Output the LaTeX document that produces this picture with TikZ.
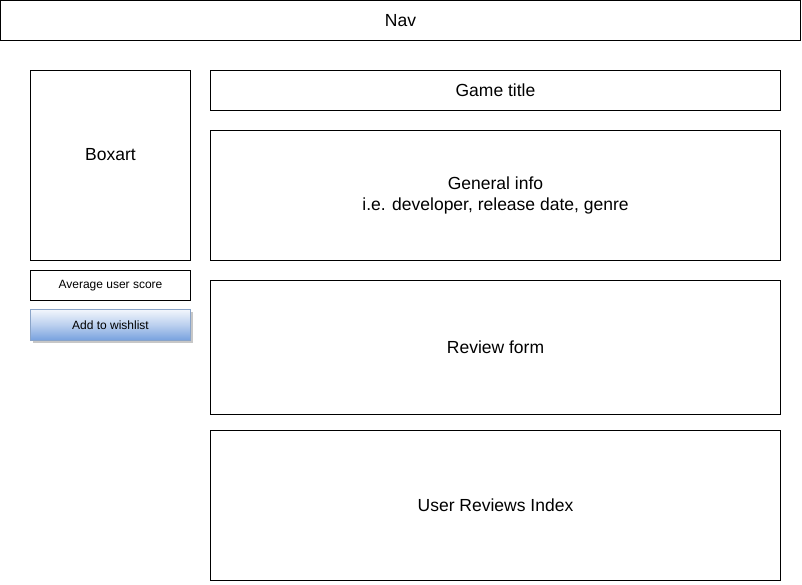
\documentclass[tikz,border=0pt]{standalone}
\usepackage{fontspec}
\setmainfont{Liberation Sans}
\usepackage{tikz}
\usetikzlibrary{positioning,shadows}
\definecolor{btnline}{HTML}{8AA4C8}
\definecolor{btntop}{HTML}{F2F6FC}
\definecolor{btnbot}{HTML}{76A0DE}

\begin{document}
\begin{tikzpicture}[
  x=1pt,y=-1pt,
  box/.style={rectangle,draw=black,fill=white,line width=1pt,outer sep=0pt,
              inner sep=0pt,align=center,font=\fontsize{17.5}{21}\selectfont},
  small/.style={box,font=\fontsize{12}{14}\selectfont},
  btn/.style={rectangle,draw=btnline,line width=0.8pt,inner sep=0pt,outer sep=0pt,
              top color=btntop,bottom color=btnbot,middle color=btntop!55!btnbot,
              drop shadow={shadow xshift=2pt,shadow yshift=-2pt,fill=black!22,opacity=1},
              font=\fontsize{12}{14}\selectfont}
]
  \useasboundingbox (0,0) rectangle (802,584);

  \node[box,anchor=north west,minimum width=800,minimum height=39.5] (nav) at (0.5,0.5) {Nav};

  % left column
  \node[box,anchor=north west,minimum width=160,minimum height=190] (boxart) at (30.5,70.5)
    {Boxart\\[1pt]\mbox{}};
  \node[small,minimum width=160,minimum height=30,below=10pt of boxart.south west,anchor=north west]
    (score) {Average user score};
  \node[btn,minimum width=160,minimum height=31,below=9pt of score.south west,anchor=north west]
    (wish) {Add to wishlist};

  % right column
  \node[box,anchor=north west,minimum width=570,minimum height=40] (title) at (210.5,70.5) {Game title};
  \node[box,minimum width=570,minimum height=130,below=20pt of title.south west,anchor=north west]
    (info) {General info\\i.e. developer, release date, genre};
  \node[box,minimum width=570,minimum height=134,below=20pt of info.south west,anchor=north west]
    (form) {Review form};
  \node[box,minimum width=570,minimum height=150,below=16pt of form.south west,anchor=north west]
    (reviews) {User Reviews Index};
\end{tikzpicture}
\end{document}
